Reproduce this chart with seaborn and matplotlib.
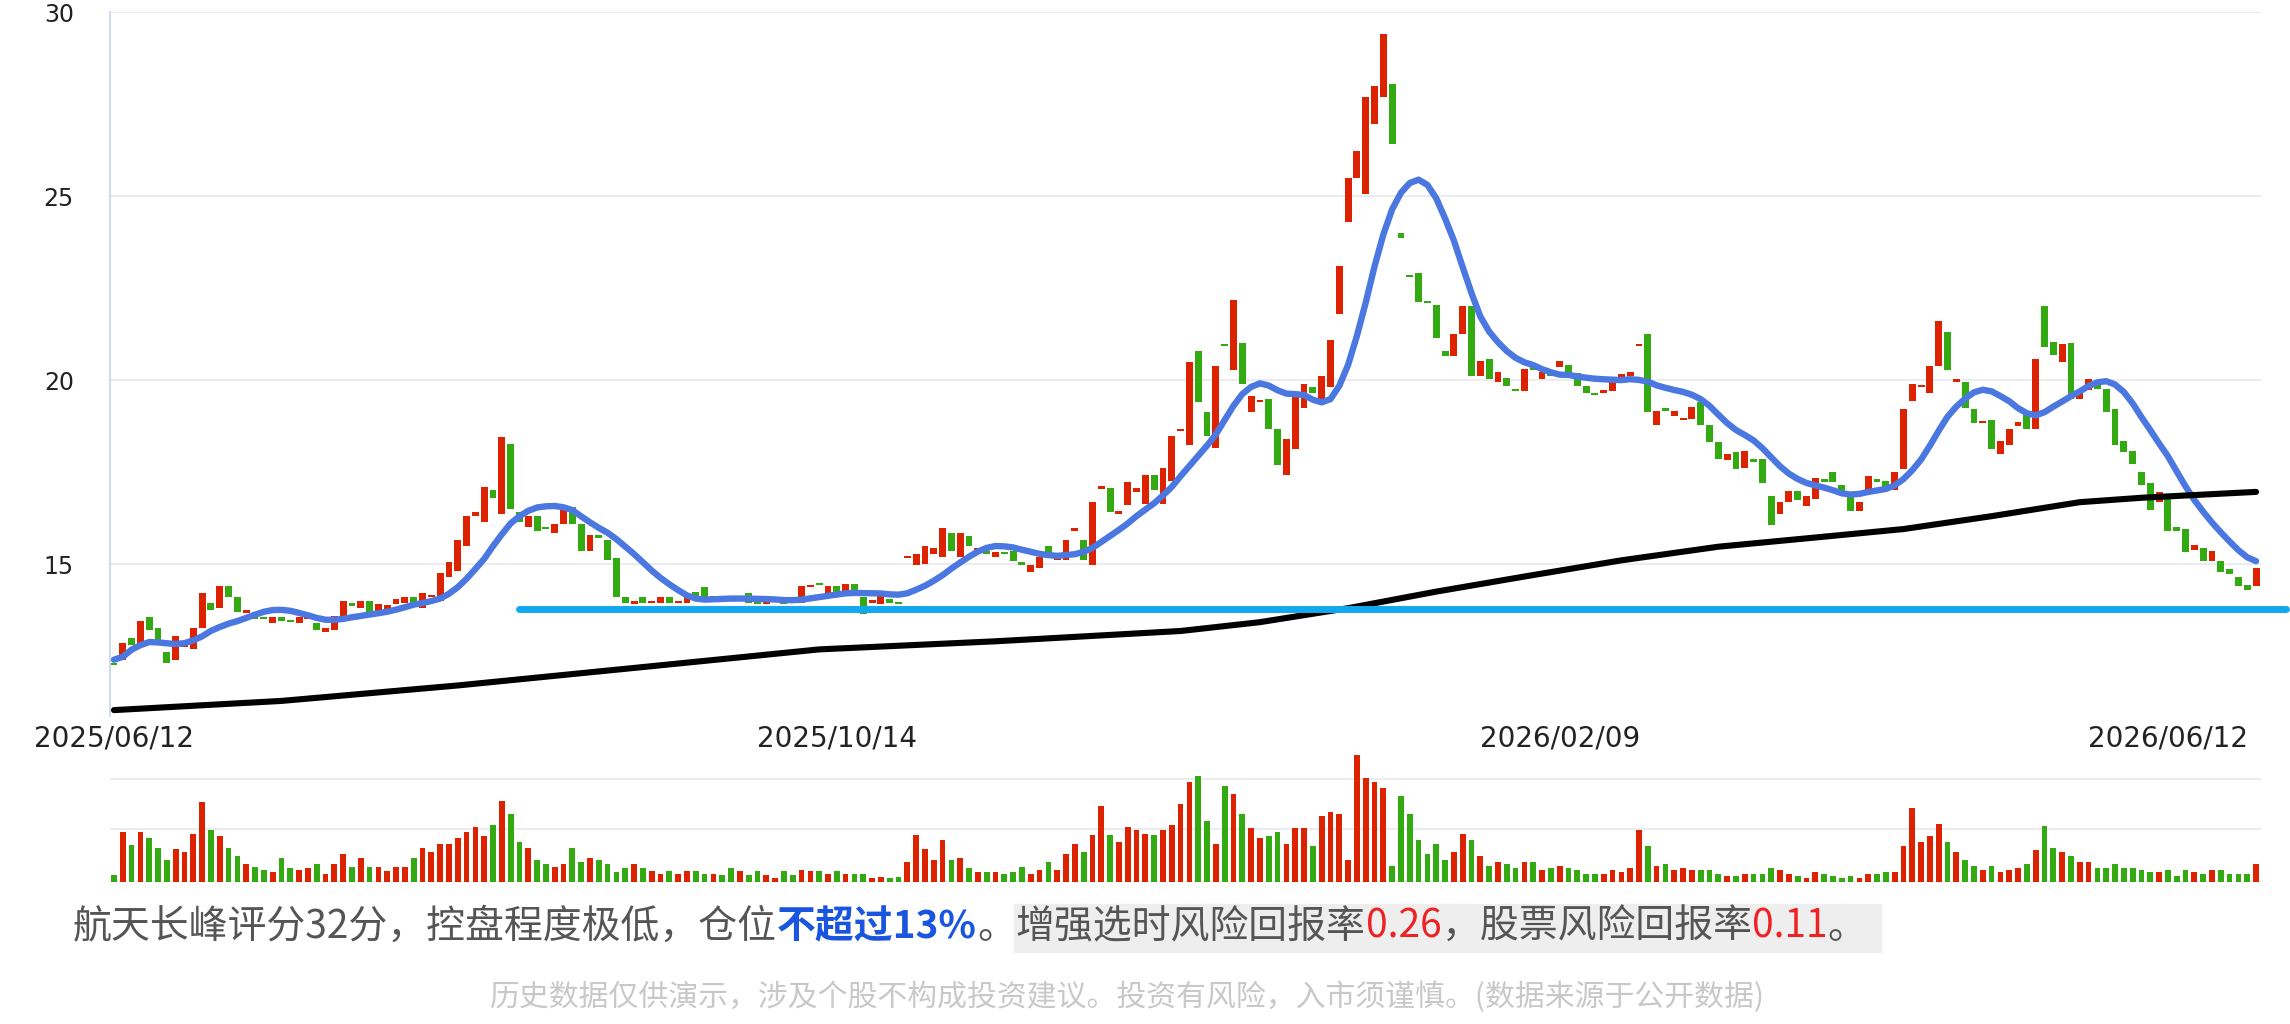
import numpy as np
import pandas as pd
import matplotlib
matplotlib.use("Agg")
import matplotlib.pyplot as plt
from matplotlib.patches import Rectangle
import seaborn as sns

opens = [12.3,12.4,13.0,12.8,13.55,13.25,12.6,12.4,12.75,12.7,13.25,13.95,13.8,14.4,14.1,13.68,13.7,13.55,13.4,13.55,
         13.46,13.4,13.5,13.4,13.15,13.2,13.55,13.93,13.8,14.0,13.65,13.78,13.9,13.95,14.1,13.8,14.1,14.0,14.65,14.8,
         15.5,16.3,16.15,17.0,16.35,18.25,16.4,16.0,16.3,16.0,15.85,16.1,16.55,16.1,15.35,15.78,15.65,15.15,14.1,13.92,
         14.1,13.93,13.95,14.1,13.93,13.95,14.25,14.38,14.05,14.13,14.1,14.0,14.2,14.0,13.92,13.98,14.08,13.95,13.95,14.38,
         14.47,14.1,14.4,14.15,14.45,14.1,13.95,13.92,14.05,13.95,15.15,14.97,15.0,15.28,15.2,15.85,15.2,15.75,15.33,15.36,
         15.2,15.33,15.36,15.05,14.77,14.9,15.5,15.12,15.12,15.9,15.65,14.97,17.05,17.07,16.37,16.6,16.95,16.64,17.41,16.64,
         17.26,18.62,18.24,20.78,19.12,18.16,20.97,20.26,21.0,19.12,19.41,19.49,18.66,17.41,18.13,19.25,19.8,19.38,19.8,21.8,
         24.3,25.48,25.05,26.96,27.7,28.05,24.0,22.85,22.9,22.13,22.05,20.78,20.65,21.25,22.02,20.11,20.58,19.95,20.06,19.75,
         19.69,20.34,20.03,20.22,20.34,20.42,20.19,19.84,19.64,19.64,19.69,20.06,20.11,20.92,21.25,18.78,19.22,19.02,18.91,18.94,
         19.41,18.78,18.32,17.82,18.04,17.62,17.85,17.85,16.84,16.37,16.68,16.99,16.57,16.76,17.3,17.5,17.15,16.95,16.45,16.92,
         17.3,17.26,17.0,17.57,19.44,19.8,19.64,20.37,21.3,19.95,19.95,19.22,18.82,18.91,18.0,18.24,18.75,19.06,18.66,22.0,
         21.04,20.5,21.0,19.49,19.72,19.9,19.75,19.22,18.35,18.08,17.5,17.2,16.68,16.88,16.0,15.95,15.39,15.44,15.08,15.08,
         14.86,14.66,14.42,14.39]
closes = [12.25,12.85,12.8,13.45,13.2,12.8,12.3,13.05,12.8,13.25,14.2,13.75,14.4,14.1,13.7,13.72,13.5,13.5,13.55,13.45,
          13.43,13.55,13.6,13.2,13.25,13.6,14.0,13.87,14.0,13.7,13.9,13.88,14.05,14.1,13.85,14.2,14.13,14.75,15.05,15.65,
          16.3,16.4,17.1,16.8,18.45,16.5,16.15,16.3,15.9,15.95,16.1,16.55,16.1,15.35,15.8,15.72,15.1,14.1,13.95,14.0,
          13.95,13.97,14.1,13.95,13.97,14.2,14.08,14.1,14.13,14.08,14.0,14.1,13.95,13.9,14.0,14.02,13.92,13.93,14.4,14.42,
          14.43,14.4,14.2,14.45,14.15,13.65,13.98,14.15,13.93,13.92,15.18,15.28,15.5,15.43,15.98,15.36,15.85,15.5,15.43,15.28,
          15.33,15.28,15.08,14.97,14.97,15.2,15.28,15.23,15.65,15.98,15.12,16.68,17.1,16.42,16.42,17.22,17.07,17.41,17.0,17.62,
          18.47,18.66,20.5,19.41,18.47,20.37,20.93,22.18,19.9,19.56,19.44,18.66,17.7,18.4,19.53,19.9,19.64,20.1,21.1,23.1,
          25.48,26.23,27.7,28.0,29.41,26.42,23.85,22.8,22.13,22.09,21.15,20.65,21.25,22.02,20.11,20.53,20.03,20.22,19.85,19.69,
          20.31,20.26,20.22,20.11,20.53,20.06,19.84,19.64,19.6,19.72,20.06,20.16,20.22,20.95,19.12,19.17,19.17,19.17,18.97,19.28,
          18.78,18.32,17.85,17.98,17.57,18.08,17.77,17.2,16.06,16.68,16.99,16.73,16.84,17.35,17.22,17.22,16.88,16.45,16.68,17.38,
          17.22,17.04,17.5,19.22,19.9,19.84,20.37,21.6,20.27,20.03,19.25,18.82,18.86,18.13,18.35,18.66,18.86,18.66,20.58,20.9,
          20.69,20.97,19.49,19.72,20.03,19.75,19.12,18.24,18.04,17.72,17.15,16.48,16.95,15.9,15.9,15.33,15.51,15.08,15.36,14.77,
          14.74,14.39,14.3,14.89]
volumes = [0.14,1.0,0.74,1.0,0.89,0.69,0.45,0.66,0.61,0.97,1.61,1.05,0.93,0.69,0.53,0.37,0.31,0.25,0.2,0.48,
           0.29,0.24,0.29,0.37,0.16,0.37,0.56,0.31,0.48,0.31,0.31,0.23,0.31,0.31,0.48,0.69,0.61,0.77,0.77,0.89,
           1.0,1.11,0.92,1.15,1.63,1.37,0.8,0.69,0.45,0.37,0.31,0.37,0.69,0.4,0.48,0.45,0.37,0.2,0.29,0.37,
           0.29,0.22,0.16,0.22,0.16,0.22,0.22,0.16,0.16,0.14,0.29,0.22,0.14,0.22,0.14,0.08,0.22,0.14,0.25,0.22,
           0.22,0.16,0.22,0.16,0.16,0.16,0.08,0.11,0.08,0.11,0.4,0.94,0.66,0.45,0.85,0.45,0.48,0.29,0.2,0.2,
           0.2,0.16,0.2,0.31,0.16,0.25,0.4,0.25,0.56,0.77,0.61,0.94,1.53,0.94,0.8,1.11,1.05,0.97,0.94,1.05,
           1.15,1.56,2.01,2.13,1.23,0.77,1.92,1.77,1.37,1.08,0.89,0.93,1.0,0.77,1.08,1.08,0.72,1.32,1.4,1.37,
           0.45,2.55,2.09,2.01,1.89,0.33,1.72,1.37,0.85,0.56,0.77,0.45,0.61,0.97,0.85,0.53,0.33,0.4,0.37,0.29,
           0.4,0.4,0.24,0.29,0.32,0.29,0.24,0.16,0.16,0.16,0.24,0.21,0.29,1.05,0.72,0.33,0.37,0.24,0.29,0.24,
           0.24,0.24,0.16,0.13,0.13,0.16,0.16,0.16,0.29,0.24,0.16,0.13,0.08,0.21,0.16,0.13,0.08,0.13,0.08,0.16,
           0.16,0.21,0.21,0.72,1.48,0.8,0.93,1.16,0.8,0.61,0.45,0.32,0.24,0.32,0.21,0.24,0.29,0.37,0.64,1.13,
           0.69,0.61,0.53,0.4,0.4,0.29,0.29,0.37,0.29,0.29,0.24,0.21,0.21,0.24,0.13,0.24,0.21,0.16,0.24,0.24,
           0.16,0.16,0.16,0.37]
ma_long_idx = [0, 19, 39, 60, 80, 100, 121, 130, 140, 150, 160, 171, 182, 193, 203, 213, 223, 230, 243]
ma_long_val = [11.03, 11.28, 11.7, 12.2, 12.68, 12.9, 13.18, 13.42, 13.8, 14.25, 14.66, 15.1, 15.47, 15.72, 15.95, 16.3, 16.68, 16.8, 16.96]
support_level = 13.77
support_start = 46
date_labels = ["2025/06/12", "2025/10/14", "2026/02/09", "2026/06/12"]
date_idx = [0, 82, 164, 233]
price_ticks = [15, 20, 25, 30]

sns.set_theme(style="white")
plt.rcParams['font.family'] = ['Noto Sans CJK SC', 'DejaVu Sans']

RED, GREEN = "#dd2200", "#33aa11"
n = len(closes)
df = pd.DataFrame({"i": np.arange(n), "open": opens, "close": closes, "vol": volumes})
df["up"] = df["close"] >= df["open"]
df["ma"] = df["close"].rolling(10, min_periods=1).mean().rolling(3, center=True, min_periods=1).mean()
cols = np.where(df["up"], RED, GREEN)

W, H = 2290, 1024
fig = plt.figure(figsize=(W / 100, H / 100), dpi=100)
ax = fig.add_axes([110 / W, 1 - 716 / H, (2261 - 110) / W, (716 - 12) / H])
axv = fig.add_axes([110 / W, 1 - 882 / H, (2261 - 110) / W, (882 - 752) / H])

xl = (-0.45, 243.56)
bottoms = np.minimum(df["open"], df["close"])
heights = np.maximum(np.abs(df["close"] - df["open"]), 0.06)
ax.bar(df["i"], heights, bottom=bottoms, width=0.78, color=cols, zorder=3, linewidth=0)
sns.lineplot(x=df["i"], y=df["ma"], ax=ax, color="#4a78e0", linewidth=4.6, zorder=4)
sns.lineplot(x=ma_long_idx, y=ma_long_val, ax=ax, color="black", linewidth=4.4, zorder=4)
ax.plot([support_start, 246.4], [support_level, support_level], color="#12a8f0", lw=5,
        solid_capstyle="round", clip_on=False, zorder=5)
ax.set_xlim(*xl)
ax.set_ylim(10.87, 30)
ax.set_yticks(price_ticks)
ax.set_yticklabels([str(t) for t in price_ticks], fontsize=17, color="#222222", family="DejaVu Sans")
ax.yaxis.grid(True, color="#e8e8ee", lw=1.2)
ax.set_xticks(date_idx)
ax.set_xticklabels(date_labels, fontsize=20, color="#222222", family="DejaVu Sans")
ax.tick_params(axis="both", length=0)
ax.tick_params(axis="y", pad=26)
ax.tick_params(axis="x", pad=6)
for s in ["top", "right", "bottom"]:
    ax.spines[s].set_visible(False)
ax.spines["left"].set_color("#ccd6eb")
ax.set_xlabel("")
ax.set_ylabel("")

axv.bar(df["i"], df["vol"], width=0.65, color=cols, linewidth=0, zorder=3)
axv.set_xlim(*xl)
axv.set_ylim(0, 2.6)
axv.set_yticks([0, 1.06, 2.06])
axv.yaxis.grid(True, color="#e8e8ee", lw=1.2)
axv.set_yticklabels([])
axv.set_xticks([])
axv.tick_params(length=0)
for s in axv.spines.values():
    s.set_visible(False)

fig.canvas.draw()
r = fig.canvas.get_renderer()
y1 = 1 - 927 / H
x = 73 / W
pieces = [("航天长峰评分32分，控盘程度极低，仓位", "#555555", "normal"),
          ("不超过13%", "#1a55e0", "bold"),
          ("。", "#555555", "normal"),
          ("增强选时风险回报率", "#555555", "normal"),
          ("0.26", "#ee2222", "normal"),
          ("，股票风险回报率", "#555555", "normal"),
          ("0.11", "#ee2222", "normal"),
          ("。", "#555555", "normal")]
box_start = None
for k, (t, c, w) in enumerate(pieces):
    if k == 3:
        box_start = x
    tx = fig.text(x, y1, t, color=c, fontsize=28, fontweight=w, va="center", ha="left", zorder=3)
    bb = tx.get_window_extent(r)
    x += bb.width / W
box_end = x + 16 / W
fig.patches.append(Rectangle((box_start - 2 / W, 1 - 952 / H), box_end - box_start, 48 / H,
                             transform=fig.transFigure, color="#eeeeee", zorder=1))
fig.text(1127 / W, 1 - 997 / H, "历史数据仅供演示，涉及个股不构成投资建议。投资有风险，入市须谨慎。(数据来源于公开数据)",
         color="#c8c8c8", fontsize=21.5, ha="center", va="center")

fig.savefig("out.png", dpi=100)
